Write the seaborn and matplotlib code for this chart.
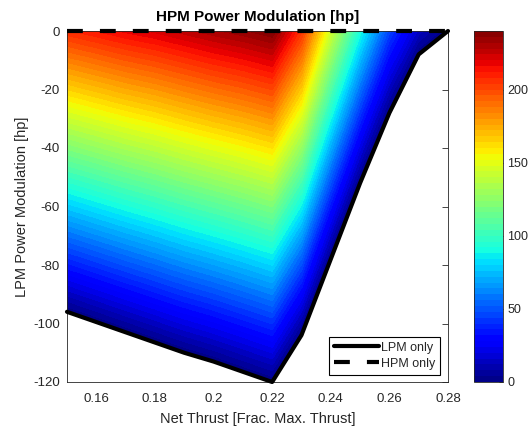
import matplotlib
matplotlib.use('Agg')
import matplotlib.pyplot as plt
import numpy as np
import seaborn as sns

# net thrust grid (fraction of max thrust)
thrust = [0.15, 0.16, 0.17, 0.18, 0.19, 0.20, 0.21, 0.22, 0.23, 0.24, 0.25, 0.26, 0.27, 0.28]
# LPM power modulation along "LPM only" boundary [hp]
lpm_only = [-96, -99.5, -103, -106.5, -110, -113, -116.5, -120, -104, -78, -52, -28, -8, 0]
# HPM power modulation along "HPM only" boundary (LPM = 0) [hp]
hpm_only = [207, 212, 217, 221, 226, 231, 235, 240, 205, 143, 90, 45, 14, 0]

x_ticks = [0.16, 0.18, 0.2, 0.22, 0.24, 0.26, 0.28]
y_ticks = [-120, -100, -80, -60, -40, -20, 0]
cbar_ticks = [0, 50, 100, 150, 200]

sns.set_theme(style='white')
plt.rcParams['font.family'] = ['Liberation Sans', 'DejaVu Sans']
plt.rcParams['axes.unicode_minus'] = False
txt = '#262626'

fig = plt.figure(figsize=(5.3, 4.26), dpi=100)
ax = fig.add_axes([67/530, 44/426, 381/530, 351/426])
cax = fig.add_axes([474/530, 44/426, 29/530, 351/426])

# grid: bottom row on the LPM-only boundary, top row on the HPM-only line
X = np.vstack([thrust, thrust])
Y = np.vstack([lpm_only, np.zeros(len(thrust))])
Z = np.vstack([np.zeros(len(thrust)), hpm_only])

levels = np.linspace(0, 240, 61)
cs = ax.contourf(X, Y, Z, levels=levels, cmap='jet')
cs.set_edgecolor('face')
cs.set_linewidth(0.4)

ax.plot(thrust, lpm_only, color='black', lw=3, label='LPM only', clip_on=False, zorder=5)
ax.plot(thrust, np.zeros(len(thrust)), color='black', lw=3, dashes=(3.8, 4.1),
        label='HPM only', clip_on=False, zorder=5)

ax.set_xlim(0.15, 0.28)
ax.set_ylim(-120, 0)
ax.set_xticks(x_ticks)
ax.set_xticklabels(['0.16', '0.18', '0.2', '0.22', '0.24', '0.26', '0.28'])
ax.set_yticks(y_ticks)
ax.tick_params(direction='in', length=4, width=0.6, top=True, right=True,
               labelsize=9.5, colors=txt, pad=5)
ax.tick_params(axis='x', pad=8)
for sp in ax.spines.values():
    sp.set_color(txt)
    sp.set_linewidth(0.6)

ax.set_title('HPM Power Modulation [hp]', fontsize=11, fontweight='bold', color='black', pad=7)
ax.set_xlabel('Net Thrust [Frac. Max. Thrust]', fontsize=10.5, color=txt, labelpad=5)
ax.set_ylabel('LPM Power Modulation [hp]', fontsize=10.5, color=txt, labelpad=3)

leg = ax.legend(loc='lower right', fontsize=9, handlelength=3.6, frameon=True,
                fancybox=False, framealpha=1, edgecolor='black',
                borderaxespad=0.6, handletextpad=0.2, labelspacing=0.3, borderpad=0.4)
leg.get_frame().set_linewidth(0.8)

cb = fig.colorbar(cs, cax=cax, ticks=cbar_ticks)
cb.ax.tick_params(direction='in', length=3, width=0.6, labelsize=9, colors=txt, pad=3)
cb.outline.set_edgecolor(txt)
cb.outline.set_linewidth(0.6)

fig.savefig('out.png', dpi=100)
